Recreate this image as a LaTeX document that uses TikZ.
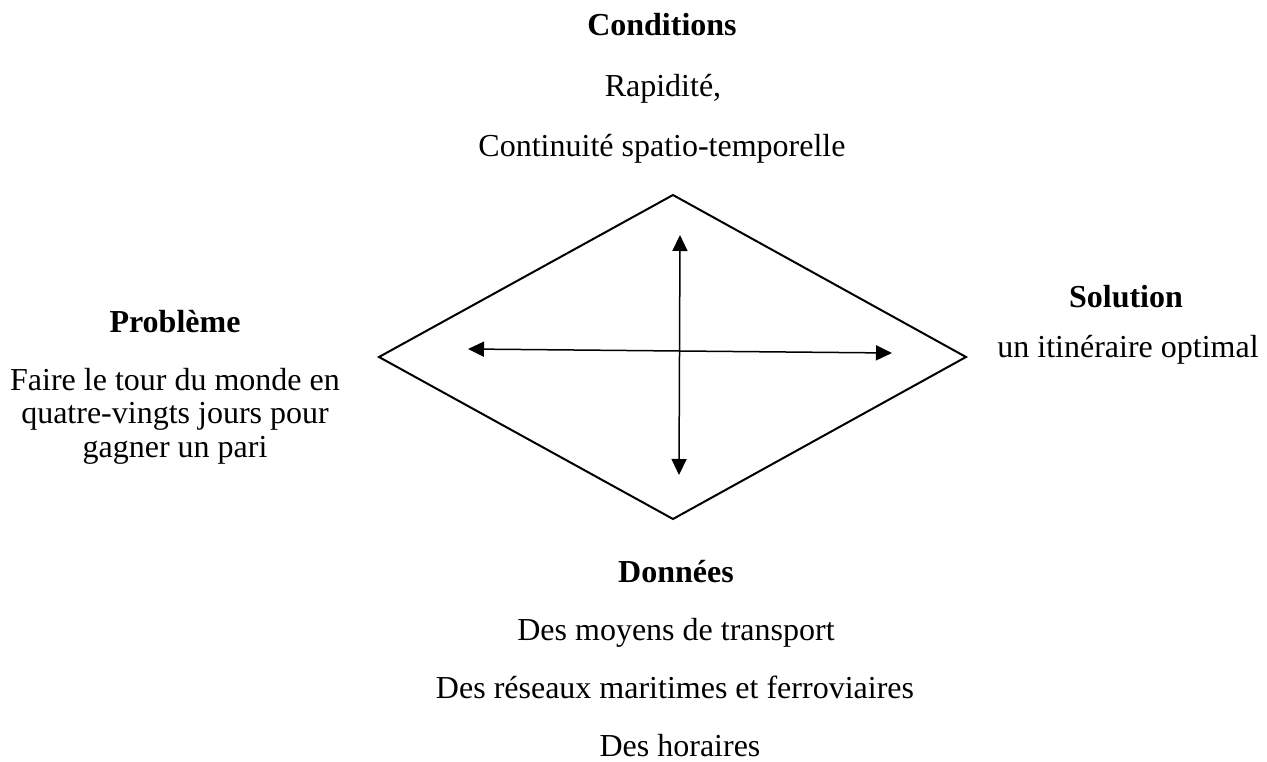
\documentclass[tikz,border=0pt]{standalone}
\usepackage{fontspec}
\setmainfont{Liberation Serif}
\usetikzlibrary{arrows.meta}
\begin{document}
\begin{tikzpicture}[x=1pt,y=-1pt,
  txt/.style={font=\fontsize{32}{38}\selectfont, anchor=base, inner sep=0pt},
  head/.style={font=\fontsize{32}{38}\selectfont\bfseries, anchor=base, inner sep=0pt},
  diam/.style={line width=2pt, line join=miter},
  dbl/.style={line width=1.5pt, {Triangle[length=16pt,width=15pt]}-{Triangle[length=16pt,width=15pt]}}]
\useasboundingbox (0,0) rectangle (1267,762);
% diamond
\coordinate (T) at (673,195);
\coordinate (R) at (966,357);
\coordinate (B) at (673,519);
\coordinate (L) at (379,357);
\draw[diam] (T) -- (R) -- (B) -- (L) -- cycle;
% arrows
\coordinate (hl) at (468,349);
\coordinate (hr) at (892,353);
\coordinate (vt) at (680,235);
\coordinate (vb) at (679,475);
\draw[dbl] (hl) -- (hr);
\draw[dbl] (vt) -- (vb);
% top texts
\node[head] (cond) at (662,36) {Conditions};
\node[txt] (rap) at (663,97) {Rapidité,};
\node[txt] (cont) at (662,157) {Continuité spatio-temporelle};
% left texts
\node[head] (prob) at (175,332) {Problème};
\node[txt] (pl1) at (175,390) {Faire le tour du monde en};
\node[txt] (pl2) at (175,423.5) {quatre-vingts jours pour};
\node[txt] (pl3) at (175,457) {gagner un pari};
% right texts
\node[head] (sol) at (1126,307) {Solution};
\node[txt] (opt) at (1128,357) {un itinéraire optimal};
% bottom texts
\node[head] (don) at (676,582) {Données};
\node[txt] (moy) at (676,640) {Des moyens de transport};
\node[txt] (res) at (675,698) {Des réseaux maritimes et ferroviaires};
\node[txt] (hor) at (680,756) {Des horaires};
\end{tikzpicture}
\end{document}
